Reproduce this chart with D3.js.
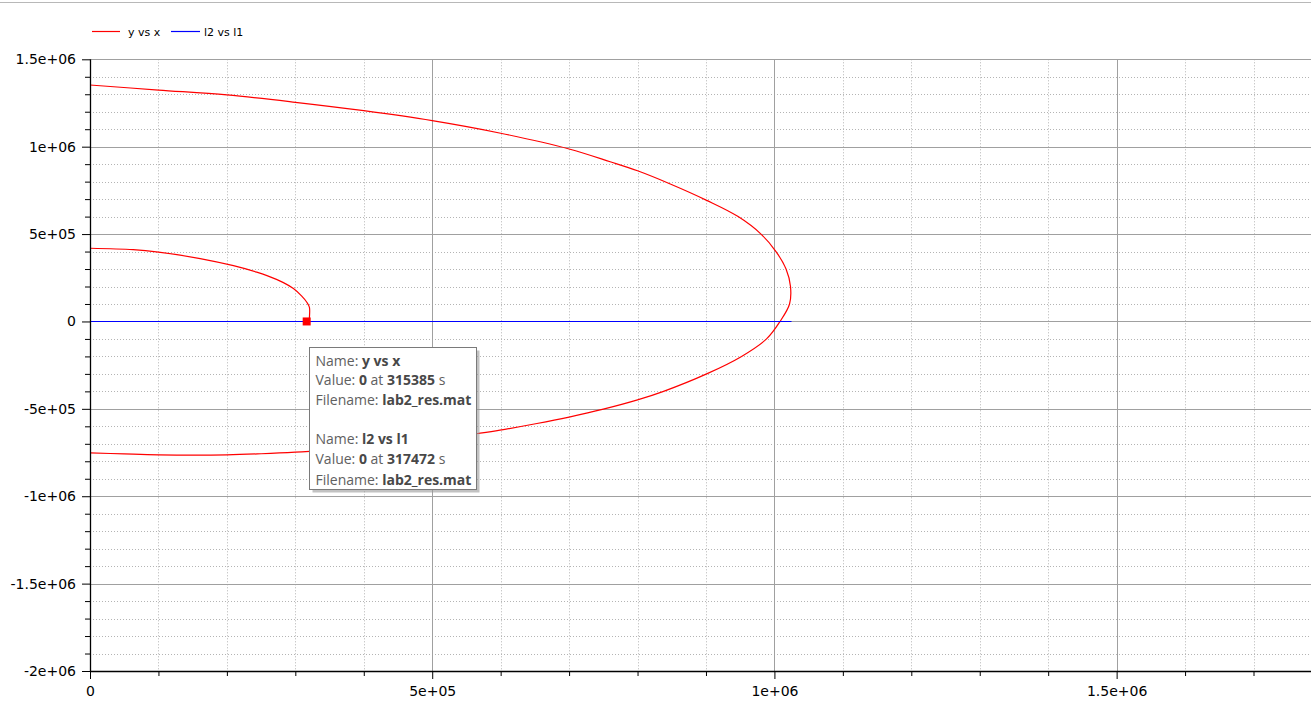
<!DOCTYPE html>
<html>
<head>
<meta charset="utf-8">
<script src="https://cdn.jsdelivr.net/npm/d3@7"></script>
<style>
  html, body { margin: 0; padding: 0; background: #fff; }
  svg { display: block; }
</style>
</head>
<body>
<svg id="chart" width="1311" height="707"></svg>
<script>
// ---- Data (values in data units) ----
const seriesNames = ["y vs x", "l2 vs l1"];
const seriesColors = ["#ff0000", "#0000ff"];

// outer branch of "y vs x"
const outerX = [0, 0.1e6, 0.2e6, 0.3e6, 0.4e6, 0.5e6, 0.6e6, 0.7e6, 0.76e6, 0.80e6, 0.847e6, 0.901e6, 0.947e6, 0.9804e6, 1.0023e6, 1.017e6, 1.0235e6, 1.0221e6, 1.0082e6, 0.9885e6, 0.952e6, 0.901e6, 0.838e6, 0.80e6, 0.75e6, 0.70e6, 0.653e6, 0.599e6, 0.567e6, 0.5e6, 0.45e6, 0.4e6, 0.35e6, 0.3e6, 0.25e6, 0.2e6, 0.1e6, 0.05e6, 0];
const outerY = [1.353e6, 1.324e6, 1.296e6, 1.254e6, 1.206e6, 1.149e6, 1.077e6, 0.987e6, 0.914e6, 0.862e6, 0.788e6, 0.693e6, 0.6e6, 0.5e6, 0.4e6, 0.3e6, 0.2e6, 0.1e6, 0, -0.1e6, -0.2e6, -0.3e6, -0.4e6, -0.449e6, -0.502e6, -0.547e6, -0.584e6, -0.622e6, -0.641e6, -0.677e6, -0.701e6, -0.72e6, -0.735e6, -0.748e6, -0.757e6, -0.763e6, -0.763e6, -0.758e6, -0.752e6];

// inner branch of "y vs x"
const innerX = [0, 0.063e6, 0.1e6, 0.161e6, 0.2096e6, 0.2436e6, 0.2586e6, 0.2826e6, 0.2972e6, 0.3094e6, 0.3168e6, 0.3206e6, 0.3206e6, 0.3206e6];
const innerY = [0.419e6, 0.411e6, 0.397e6, 0.36e6, 0.319e6, 0.282e6, 0.262e6, 0.222e6, 0.188e6, 0.145e6, 0.11e6, 0.08e6, 0.02e6, 0];

// "l2 vs l1"
const l1 = [0, 1.025e6];
const l2 = [0, 0];

// marker (hovered point)
const markerX = 316600;
const markerY = 0;

// ticks
const xTickValues = [0, 5e5, 1e6, 1.5e6];
const xTickLabels = ["0", "5e+05", "1e+06", "1.5e+06"];
const yTickValues = [1.5e6, 1e6, 5e5, 0, -5e5, -1e6, -1.5e6, -2e6];
const yTickLabels = ["1.5e+06", "1e+06", "5e+05", "0", "-5e+05", "-1e+06", "-1.5e+06", "-2e+06"];

// tooltip
const tooltipEntries = [
  { name: "y vs x", value: "0", at: "315385", file: "lab2_res.mat" },
  { name: "l2 vs l1", value: "0", at: "317472", file: "lab2_res.mat" }
];

// ---- Layout ----
const W = 1311, H = 707;
const pLeft = 90, pRight = 1311, pTop = 59.3, pBottom = 671;
const svg = d3.select("#chart");

const x = d3.scaleLinear().domain([0, 1.784e6]).range([pLeft, pRight]);
const y = d3.scaleLinear().domain([-2e6, 1.5e6]).range([pBottom, pTop]);

// window frame line at top
svg.append("line").attr("x1", 0).attr("x2", W).attr("y1", 2.5).attr("y2", 2.5)
  .attr("stroke", "#b8b8b8").attr("stroke-width", 1);

// ---- Grid ----
const isMajor = v => Math.abs(v / 5e5 - Math.round(v / 5e5)) < 1e-6;
const minorX = d3.range(1e5, 1.784e6, 1e5).filter(v => !isMajor(v));
const minorY = d3.range(-2e6 + 1e5, 1.5e6, 1e5).filter(v => !isMajor(v));

const grid = svg.append("g");
grid.selectAll(".mx").data(minorX).enter().append("line")
  .attr("x1", d => Math.round(x(d)) + 0.5).attr("x2", d => Math.round(x(d)) + 0.5)
  .attr("y1", pTop).attr("y2", pBottom)
  .attr("stroke", "#b4b4b4").attr("stroke-width", 1).attr("stroke-dasharray", "1,2");
grid.selectAll(".my").data(minorY).enter().append("line")
  .attr("y1", d => Math.round(y(d)) + 0.5).attr("y2", d => Math.round(y(d)) + 0.5)
  .attr("x1", pLeft).attr("x2", pRight)
  .attr("stroke", "#b4b4b4").attr("stroke-width", 1).attr("stroke-dasharray", "1,2");
grid.selectAll(".Mx").data(xTickValues.filter(v => v > 0)).enter().append("line")
  .attr("x1", d => Math.round(x(d)) + 0.5).attr("x2", d => Math.round(x(d)) + 0.5)
  .attr("y1", pTop).attr("y2", pBottom)
  .attr("stroke", "#a0a0a0").attr("stroke-width", 1);
grid.selectAll(".My").data(yTickValues).enter().append("line")
  .attr("y1", d => Math.round(y(d)) + 0.5).attr("y2", d => Math.round(y(d)) + 0.5)
  .attr("x1", pLeft).attr("x2", pRight)
  .attr("stroke", "#a0a0a0").attr("stroke-width", 1);

// ---- Series ----
const outer = outerX.map((v, i) => [v, outerY[i]]);
const inner = innerX.map((v, i) => [v, innerY[i]]);
const lline = l1.map((v, i) => [v, l2[i]]);
const curveLine = d3.line().x(d => x(d[0])).y(d => y(d[1])).curve(d3.curveCatmullRom.alpha(0.5));

svg.append("path").datum(outer).attr("d", curveLine)
  .attr("fill", "none").attr("stroke", seriesColors[0]).attr("stroke-width", 1.2);
svg.append("path").datum(inner).attr("d", curveLine)
  .attr("fill", "none").attr("stroke", seriesColors[0]).attr("stroke-width", 1.2);
svg.append("path").datum(lline).attr("d", d3.line().x(d => x(d[0])).y(d => Math.round(y(d[1])) + 0.5))
  .attr("fill", "none").attr("stroke", seriesColors[1]).attr("stroke-width", 1.2);

// ---- Axes ----
const axisFont = "DejaVu Sans, Verdana, sans-serif";
const yAxis = svg.append("g").attr("transform", `translate(${pLeft},0)`)
  .call(d3.axisLeft(y).tickValues(yTickValues).tickFormat((d, i) => yTickLabels[i]).tickSize(8).tickPadding(6));
const yMinor = svg.append("g").attr("transform", `translate(${pLeft},0)`)
  .call(d3.axisLeft(y).tickValues(minorY).tickFormat("").tickSize(5));
const xAxis = svg.append("g").attr("transform", `translate(0,${pBottom})`)
  .call(d3.axisBottom(x).tickValues(xTickValues).tickFormat((d, i) => xTickLabels[i]).tickSize(8).tickPadding(7));
const xMinor = svg.append("g").attr("transform", `translate(0,${pBottom})`)
  .call(d3.axisBottom(x).tickValues(minorX).tickFormat("").tickSize(5));

[yAxis, yMinor, xAxis, xMinor].forEach(g => {
  g.select(".domain").remove();
  g.selectAll("line").attr("stroke", "#000");
  g.selectAll("text").attr("font-family", axisFont).attr("font-size", 14).attr("fill", "#000");
});

// axis lines
svg.append("line").attr("x1", pLeft + 0.5).attr("x2", pLeft + 0.5).attr("y1", pTop).attr("y2", pBottom + 0.5)
  .attr("stroke", "#000").attr("stroke-width", 1.3);
svg.append("line").attr("x1", pLeft).attr("x2", pRight).attr("y1", pBottom + 0.5).attr("y2", pBottom + 0.5)
  .attr("stroke", "#000").attr("stroke-width", 1.3);

// ---- Marker ----
svg.append("rect")
  .attr("x", x(markerX) - 4).attr("y", y(markerY) - 4)
  .attr("width", 8).attr("height", 8).attr("fill", seriesColors[0]);

// ---- Legend ----
const legend = svg.append("g");
const legendItems = [
  { x1: 92, x2: 120, tx: 128 },
  { x1: 171, x2: 200, tx: 204 }
];
seriesNames.forEach((n, i) => {
  const it = legendItems[i];
  legend.append("line").attr("x1", it.x1).attr("x2", it.x2).attr("y1", 31.5).attr("y2", 31.5)
    .attr("stroke", seriesColors[i]).attr("stroke-width", 1.2);
  legend.append("text").attr("x", it.tx).attr("y", 35.5).text(n)
    .attr("font-family", axisFont).attr("font-size", 11).attr("fill", "#000");
});

// ---- Tooltip ----
const tip = svg.append("g");
const tx0 = 309.5, ty0 = 347.5, tw = 167, th = 142;
tip.append("rect").attr("x", tx0 + 3).attr("y", ty0 + 3).attr("width", tw).attr("height", th)
  .attr("fill", "#9a9a9a").attr("opacity", 0.6);
tip.append("rect").attr("x", tx0).attr("y", ty0).attr("width", tw).attr("height", th)
  .attr("fill", "#fff").attr("stroke", "#7a7a7a").attr("stroke-width", 1);
const tipFont = "Open Sans, Noto Sans, sans-serif";
const lineCenters = [[360.7, 380.3, 400], [439.3, 459.3, 480]];
tooltipEntries.forEach((e, i) => {
  const rows = [
    [["Name: ", false], [e.name, true]],
    [["Value: ", false], [e.value, true], [" at ", false], [e.at, true], [" s", false]],
    [["Filename: ", false], [e.file, true]]
  ];
  rows.forEach((parts, r) => {
    const t = tip.append("text").attr("x", 315.5).attr("y", lineCenters[i][r] + 5)
      .attr("font-family", tipFont).attr("font-size", 14).attr("fill", "#585858")
      .attr("xml:space", "preserve");
    parts.forEach(([s, b]) => {
      t.append("tspan").text(s).attr("font-weight", b ? "bold" : "normal")
        .attr("fill", b ? "#484848" : "#606060");
    });
  });
});
</script>
</body>
</html>
